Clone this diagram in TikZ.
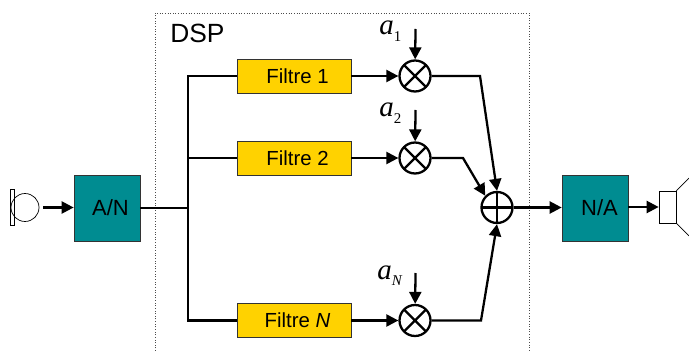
\documentclass[tikz,border=0pt]{standalone}
\usepackage{fontspec}
\setmainfont{Liberation Sans}
\newfontfamily\gainfont{Liberation Serif}
\usetikzlibrary{arrows.meta}
\definecolor{convcol}{RGB}{0,140,145}
\definecolor{filtcol}{RGB}{255,210,0}
\newcommand{\gainlabel}[1]{{\gainfont\itshape a}\raisebox{-0.45ex}{\gainfont\fontsize{8.5pt}{9pt}\selectfont #1}}
\tikzset{
    conv/.style={draw=black!80, fill=convcol, minimum width=1.32cm, minimum height=1.32cm, inner sep=0, font=\fontsize{12.5pt}{14pt}\selectfont, text=black},
    filt/.style={draw=black!80, fill=filtcol, minimum width=2.28cm, minimum height=0.68cm, inner sep=0, font=\fontsize{11.6pt}{14pt}\selectfont},
    mult/.style={circle, draw, line width=1.3pt, minimum size=0.62cm, inner sep=0,
        path picture={\draw[line width=1.3pt] (path picture bounding box.south west) -- (path picture bounding box.north east) (path picture bounding box.north west) -- (path picture bounding box.south east);}},
    somme/.style={circle, draw, line width=1.3pt, minimum size=0.62cm, inner sep=0,
        path picture={\draw[line width=1.3pt] (path picture bounding box.south) -- (path picture bounding box.north) (path picture bounding box.west) -- (path picture bounding box.east);}},
    fil/.style={line width=1.3pt},
    fleche/.style={line width=1.3pt, -{Triangle[length=2.4mm, width=2.4mm]}},
    gain/.style={font=\fontsize{16.5pt}{18pt}\selectfont, inner sep=0, anchor=base west},
}
\begin{document}
\begin{tikzpicture}[x=0.02cm, y=-0.02cm]
    \useasboundingbox (0, 0) rectangle (689, 351);
    % DSP frame
    \draw[densely dotted, line width=0.5pt, black!70] (155, 351) -- (155, 13) -- (529, 13) -- (529, 351);
    \node[font=\fontsize{15pt}{18pt}\selectfont, anchor=west, inner sep=0] (dsp) at (170, 33) {DSP};

    % micro
    \node[draw, line width=0.4pt, minimum width=0.09cm, minimum height=0.72cm, inner sep=0] (capsule) at (12.5, 207) {};
    \node[draw, circle, line width=0.4pt, minimum size=0.56cm, inner sep=0] (micro) at (25, 207.5) {};

    % converters
    \node[conv] (an) at (107, 208) {\hspace{0.14cm}A/N};
    \node[conv] (na) at (595, 208) {\hspace{0.18cm}N/A};

    % filters
    \node[filt] (f1) at (294, 76) {\hspace{0.14cm}Filtre 1};
    \node[filt] (f2) at (294, 158) {\hspace{0.14cm}Filtre 2};
    \node[filt] (fn) at (294, 320.5) {\hspace{0.14cm}Filtre \textit{N}};

    % mixers
    \node[mult] (m1) at (415, 76) {};
    \node[mult] (m2) at (415, 158) {};
    \node[mult] (mn) at (415, 320.5) {};
    \node[somme] (sum) at (497, 207.5) {};

    % gains
    \coordinate (g1) at (415.5, 29);
    \coordinate (g2) at (415.5, 110);
    \coordinate (gn) at (415.5, 273);
    \node[gain] (a1) at (379, 35) {\gainlabel{1}};
    \node[gain] (a2) at (379, 117) {\gainlabel{2}};
    \node[gain] (an2) at (377, 279) {\gainlabel{\textit{N}}};

    % bus
    \coordinate (bush) at (188, 76);
    \coordinate (busm) at (188, 158);
    \coordinate (busc) at (188, 208);
    \coordinate (busb) at (188, 320.5);
    \draw[fil] (an.east) -- (busc);
    \draw[fil] (f1.west) -- (bush) -- (busb) -- (fn.west);
    \draw[fil] (busm) -- (f2.west);

    \draw[fleche] (43, 207.5) coordinate (micout) -- (an.west |- micout);
    \draw[fleche] (f1) -- (m1);
    \draw[fleche] (f2) -- (m2);
    \draw[fleche] (fn) -- (mn);
    \draw[fleche] (g1) -- (m1);
    \draw[fleche] (g2) -- (m2);
    \draw[fleche] (gn) -- (mn);

    \coordinate (c1) at (480, 76);
    \coordinate (c2) at (463, 158);
    \coordinate (cn) at (481, 320.5);
    \draw[fleche] (m1.east) -- (c1) -- (sum.north);
    \draw[fleche] (m2.east) -- (c2) -- (sum.north west);
    \draw[fleche] (mn.east) -- (cn) -- (sum.south);
    \draw[fleche] (sum.east) -- (na.west |- sum.east);

    % speaker
    \node[draw, line width=0.4pt, fill=white, minimum width=0.34cm, minimum height=0.64cm, inner sep=0] (hp) at (667.5, 207) {};
    \draw[fleche] (na.east |- hp.west) -- (hp.west);
    \coordinate (conehaut) at (689, 178);
    \coordinate (conebas) at (689, 236);
    \draw[line width=0.4pt] (hp.north east) -- (conehaut);
    \draw[line width=0.4pt] (hp.south east) -- (conebas);
\end{tikzpicture}
\end{document}
